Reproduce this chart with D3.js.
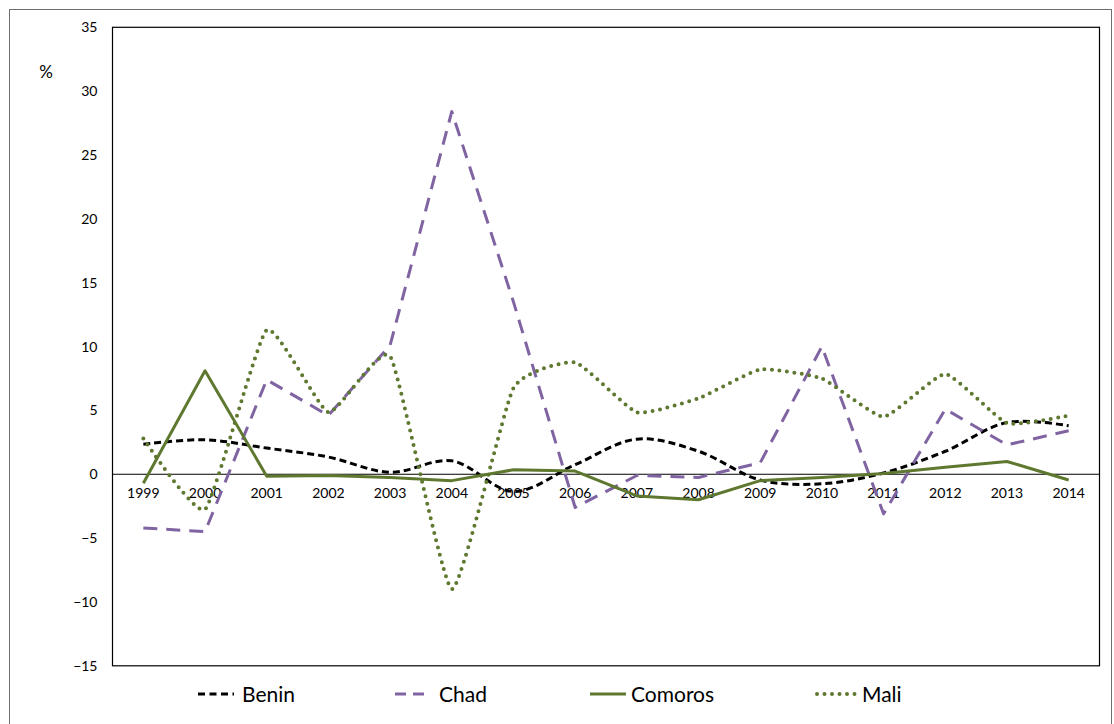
<!DOCTYPE html>
<html>
<head>
<meta charset="utf-8">
<script src="https://cdn.jsdelivr.net/npm/d3@7"></script>
<style>
  html, body { margin: 0; padding: 0; background: #fff; }
  svg { display: block; font-family: Lato, "Liberation Sans", sans-serif; }
</style>
</head>
<body>
<svg id="chart" width="1114" height="724"></svg>
<script>
// Annual change, %, 1999–2014
const years = ["1999","2000","2001","2002","2003","2004","2005","2006","2007","2008","2009","2010","2011","2012","2013","2014"];
const benin   = [2.35, 2.7, 2.05, 1.35, 0.15, 1.05, -1.35, 0.75, 2.75, 1.8, -0.45, -0.75, 0.1, 1.8, 4.05, 3.8];
const chad    = [-4.2, -4.5, 7.4, 4.6, 10.1, 28.4, 13.5, -2.6, -0.1, -0.25, 0.9, 10.0, -3.1, 5.1, 2.3, 3.4];
const comoros = [-0.7, 8.1, -0.15, -0.1, -0.25, -0.5, 0.35, 0.25, -1.7, -2.0, -0.5, -0.25, 0.05, 0.55, 1.0, -0.45];
const mali    = [2.8, -2.75, 11.3, 4.85, 9.25, -9.0, 6.75, 8.75, 4.85, 5.95, 8.2, 7.5, 4.5, 7.85, 4.0, 4.6];
const yTicks  = [35, 30, 25, 20, 15, 10, 5, 0, -5, -10, -15];

const series = [
  { name: "Benin",   values: benin,   color: "#000000", dash: "7,4",  width: 3,   curve: d3.curveCatmullRom.alpha(0.5), cap: "butt" },
  { name: "Chad",    values: chad,    color: "#8064A2", dash: "14,9", width: 3,   curve: d3.curveLinear, cap: "butt" },
  { name: "Comoros", values: comoros, color: "#5E7830", dash: null,   width: 3,   curve: d3.curveLinear, cap: "butt" },
  { name: "Mali",    values: mali,    color: "#5E7830", dash: "0,7.5", width: 4, curve: d3.curveCardinal.tension(0.55), cap: "round" }
];

const svg = d3.select("#chart");

// outer frame
svg.append("rect")
  .attr("x", 9.5).attr("y", 9.5).attr("width", 1102).attr("height", 730)
  .attr("fill", "none").attr("stroke", "#6e6e6e").attr("stroke-width", 1);

const plot = { left: 112.5, right: 1099.5, top: 27.3, bottom: 665.8 };

const x = d3.scaleBand().domain(years).range([plot.left, plot.right]);
const y = d3.scaleLinear().domain([-15, 35]).range([plot.bottom, plot.top]);
const cx = d => x(d) + x.bandwidth() / 2;

// plot area border
svg.append("rect")
  .attr("x", plot.left).attr("y", plot.top)
  .attr("width", plot.right - plot.left).attr("height", plot.bottom - plot.top)
  .attr("fill", "none").attr("stroke", "#000").attr("stroke-width", 1.2);

// y tick labels
const yAxis = d3.axisLeft(y).tickValues(yTicks).tickSize(0).tickPadding(15);
const gy = svg.append("g").attr("transform", `translate(${plot.left},0)`).call(yAxis);
gy.select(".domain").remove();
gy.selectAll("text").attr("font-size", 14).attr("fill", "#000")
  .attr("font-family", "Lato, 'Liberation Sans', sans-serif");

// unit label
svg.append("text").attr("x", 46).attr("y", 78).attr("text-anchor", "middle")
  .attr("font-size", 17).text("%");

// zero line with category labels below it
svg.append("line")
  .attr("x1", plot.left).attr("x2", plot.right)
  .attr("y1", y(0)).attr("y2", y(0))
  .attr("stroke", "#000").attr("stroke-width", 1.2);

const xAxis = d3.axisBottom(x).tickSize(0).tickPadding(14);
const gx = svg.append("g").attr("transform", `translate(0,${y(0)})`).call(xAxis);
gx.select(".domain").remove();
gx.selectAll("text").attr("font-size", 14).attr("fill", "#000")
  .attr("font-family", "Lato, 'Liberation Sans', sans-serif");

// series lines
series.forEach(s => {
  const line = d3.line()
    .x((d, i) => cx(years[i]))
    .y(d => y(d))
    .curve(s.curve);
  svg.append("path")
    .datum(s.values)
    .attr("d", line)
    .attr("fill", "none")
    .attr("stroke", s.color)
    .attr("stroke-width", s.width)
    .attr("stroke-linecap", s.cap)
    .attr("stroke-linejoin", "round")
    .attr("stroke-dasharray", s.dash);
});

// legend
const legendPos = [
  { x0: 198, x1: 234, tx: 242 },
  { x0: 395, x1: 431, tx: 439 },
  { x0: 590, x1: 626, tx: 631 },
  { x0: 817, x1: 856, tx: 862 }
];
const ly = 694;
series.forEach((s, i) => {
  const p = legendPos[i];
  const legendDash = s.name === "Chad" ? "11,7" : s.name === "Benin" ? "7,4.5" : s.dash;
  svg.append("line")
    .attr("x1", p.x0).attr("x2", p.x1).attr("y1", ly).attr("y2", ly)
    .attr("stroke", s.color).attr("stroke-width", s.width)
    .attr("stroke-linecap", s.cap)
    .attr("stroke-dasharray", legendDash);
  svg.append("text")
    .attr("x", p.tx).attr("y", ly).attr("dy", "0.36em")
    .attr("font-size", 21).attr("fill", "#000").text(s.name);
});
</script>
</body>
</html>
